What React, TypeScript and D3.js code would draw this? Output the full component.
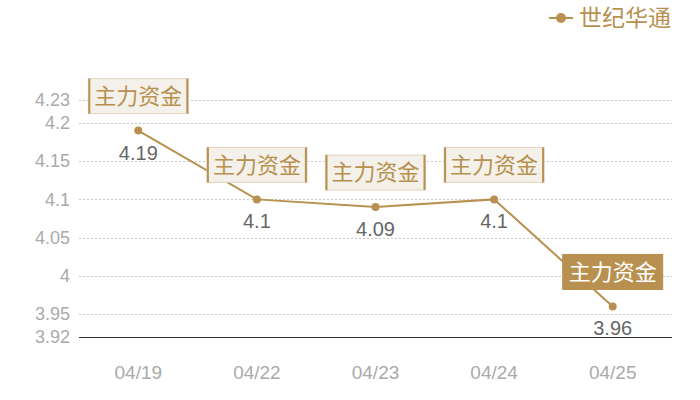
import React from "react";
import * as d3 from "d3";

const dates = ["04/19", "04/22", "04/23", "04/24", "04/25"];
const prices = [4.19, 4.1, 4.09, 4.1, 3.96];
const noteText = "主力资金";
const seriesName = "世纪华通";
const yTicks = [3.92, 3.95, 4, 4.05, 4.1, 4.15, 4.2, 4.23];

const W = 700;
const H = 400;
const margin = { top: 100, right: 28, bottom: 63, left: 79 };
const gold = "#b8904f";
const font = "'Liberation Sans', 'Noto Sans CJK SC', sans-serif";

export default function App() {
  const x = d3
    .scalePoint<string>()
    .domain(dates)
    .range([margin.left, W - margin.right])
    .padding(0.5);

  const y = d3
    .scaleLinear()
    .domain([3.92, 4.23])
    .range([H - margin.bottom, margin.top]);

  const pts = dates.map((d, i) => ({ date: d, v: prices[i] }));

  const line = d3
    .line<{ date: string; v: number }>()
    .x((d) => x(d.date)!)
    .y((d) => y(d.v));

  const boxW = 100;
  const boxH = 35;
  const baseY = Math.round(y(3.92)) + 0.5;

  return (
    <svg
      width={W}
      height={H}
      style={{ position: "absolute", left: 0, top: 0, background: "#fff" }}
      fontFamily={font}
    >
      {/* grid + y labels */}
      {yTicks.map((t) => (
        <g key={t}>
          {t !== 3.92 && (
            <line
              x1={margin.left}
              x2={W - margin.right}
              y1={Math.round(y(t)) + 0.5}
              y2={Math.round(y(t)) + 0.5}
              stroke="#c8c8c8"
              strokeDasharray="2,2"
            />
          )}
          <text
            x={margin.left - 9}
            y={y(t)}
            dy="0.35em"
            textAnchor="end"
            fontSize={18}
            fill="#aaaaaa"
          >
            {d3.format("")(t)}
          </text>
        </g>
      ))}
      <line
        x1={margin.left}
        x2={W - margin.right}
        y1={baseY}
        y2={baseY}
        stroke="#333"
        strokeWidth={1}
      />

      {/* x labels */}
      {dates.map((d) => (
        <text
          key={d}
          x={x(d)}
          y={372}
          dy="0.35em"
          textAnchor="middle"
          fontSize={19}
          fill="#aaaaaa"
        >
          {d}
        </text>
      ))}

      {/* series */}
      <path d={line(pts) ?? ""} fill="none" stroke={gold} strokeWidth={2} />
      {pts.map((p) => (
        <circle key={p.date} cx={x(p.date)} cy={y(p.v)} r={4} fill={gold} />
      ))}
      {pts.map((p) => (
        <text
          key={"v" + p.date}
          x={x(p.date)}
          y={y(p.v) + 22}
          dy="0.35em"
          textAnchor="middle"
          fontSize={20}
          fill="#666"
        >
          {p.v}
        </text>
      ))}

      {/* annotation boxes */}
      {pts.map((p, i) => {
        const cx = x(p.date)!;
        const last = i === pts.length - 1;
        const bx = cx - boxW / 2;
        const by = y(p.v) - 17 - boxH;
        return (
          <g key={"n" + p.date}>
            <rect
              x={bx}
              y={by}
              width={boxW}
              height={boxH}
              fill={last ? gold : "#f4f0ea"}
              stroke={last ? gold : "#e2d3bc"}
              strokeWidth={1}
            />
            {!last && (
              <>
                <line x1={bx + 1} x2={bx + 1} y1={by} y2={by + boxH} stroke={gold} strokeWidth={2} />
                <line
                  x1={bx + boxW - 1}
                  x2={bx + boxW - 1}
                  y1={by}
                  y2={by + boxH}
                  stroke={gold}
                  strokeWidth={2}
                />
              </>
            )}
            <text
              x={cx}
              y={by + boxH / 2}
              dy="0.35em"
              textAnchor="middle"
              fontSize={22}
              fill={last ? "#fff" : gold}
            >
              {noteText}
            </text>
          </g>
        );
      })}

      {/* legend */}
      <line x1={549} x2={573} y1={18} y2={18} stroke={gold} strokeWidth={2} />
      <circle cx={561} cy={18} r={5} fill={gold} />
      <text x={579} y={18} dy="0.35em" fontSize={23} fill={gold}>
        {seriesName}
      </text>
    </svg>
  );
}
